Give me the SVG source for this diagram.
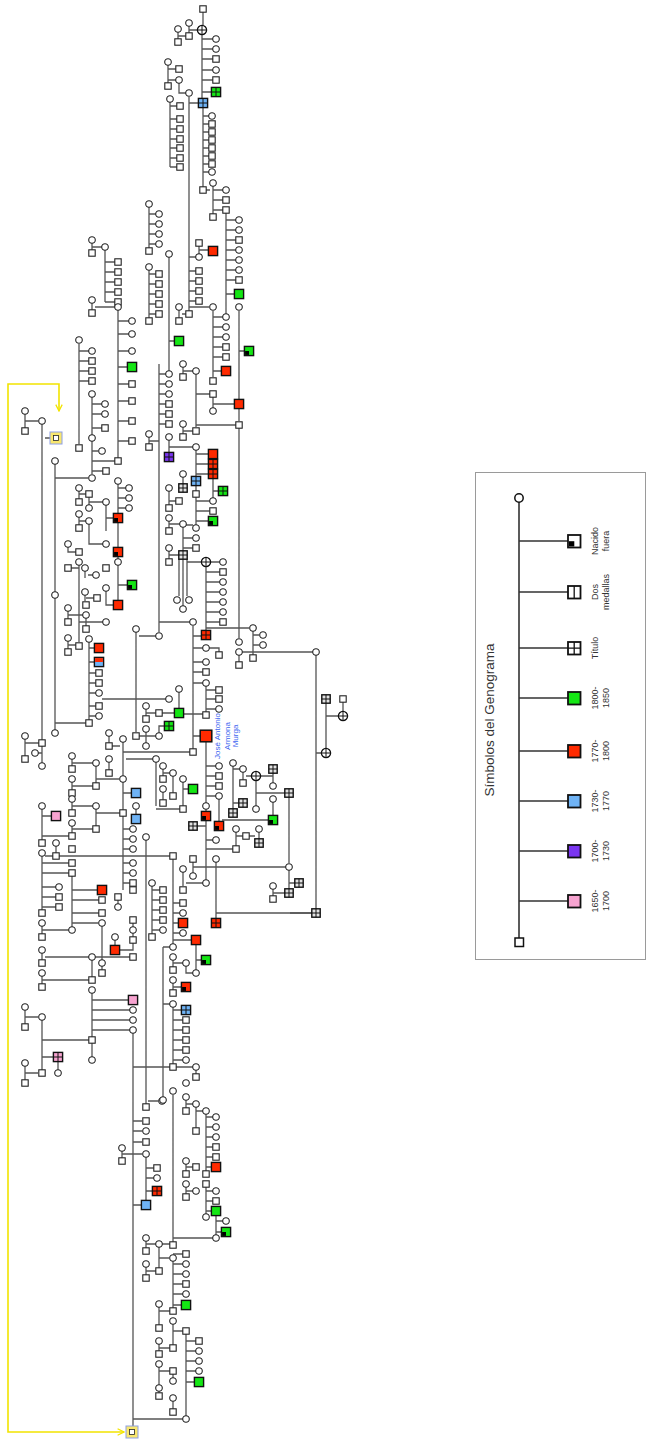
<svg xmlns="http://www.w3.org/2000/svg" xmlns:xlink="http://www.w3.org/1999/xlink" width="647" height="1439" viewBox="0 0 647 1439">
<style>
.w{fill:#fff;stroke:#222;stroke-width:1.1}
.o{stroke:#111;stroke-width:1.4}
.x{stroke:#111;stroke-width:1;fill:none}
.l{fill:none;stroke:#555;stroke-width:1.3}
.lg{fill:none;stroke:#333;stroke-width:1.6}
.t{font-family:"Liberation Sans",Arial,sans-serif;fill:#333}
</style>
<defs>
<circle id="c" r="3.3" class="w"/>
<rect id="s" x="-3.2" y="-3.2" width="6.4" height="6.4" class="w"/>
<rect id="g" x="-4.6" y="-4.6" width="9.2" height="9.2" fill="#14e614" class="o"/>
<rect id="r" x="-4.6" y="-4.6" width="9.2" height="9.2" fill="#ff2a00" class="o"/>
<rect id="b" x="-4.6" y="-4.6" width="9.2" height="9.2" fill="#6fb3f5" class="o"/>
<rect id="k" x="-4.6" y="-4.6" width="9.2" height="9.2" fill="#f7a3d0" class="o"/>
<rect id="p" x="-4.6" y="-4.6" width="9.2" height="9.2" fill="#7a35f0" class="o"/>
<path id="cr" d="M0,-4.6V4.6M-4.6,0H4.6" class="x"/>
<g id="gt"><use href="#g"/><use href="#cr"/></g>
<g id="rt"><use href="#r"/><use href="#cr"/></g>
<g id="bt"><use href="#b"/><use href="#cr"/></g>
<g id="pt"><use href="#p"/><use href="#cr"/></g>
<g id="kt"><use href="#k"/><use href="#cr"/></g>
<g id="xs"><rect x="-4.2" y="-4.2" width="8.4" height="8.4" fill="#e2e2e2" class="o"/><path d="M0,-4.2V4.2M-4.2,0H4.2" class="x"/></g>
<g id="xc"><circle r="4.6" fill="#fff" stroke="#111" stroke-width="1.3"/><path d="M0,-4.6V4.6M-4.6,0H4.6" class="x"/></g>
<g id="gn"><use href="#g"/><rect x="-3.9" y="0" width="3.9" height="3.9" fill="#000"/></g>
<g id="rn"><use href="#r"/><rect x="-3.9" y="0" width="3.9" height="3.9" fill="#000"/></g>
<g id="rb"><use href="#b"/><rect x="-3.9" y="-3.9" width="7.8" height="3.9" fill="#ff2a00"/></g>
<rect id="rl" x="-5.8" y="-5.8" width="11.6" height="11.6" fill="#ff2a00" stroke="#111" stroke-width="1.5"/>
<g id="y"><rect x="-6" y="-6" width="12" height="12" fill="#f9e76e" stroke="#8d9fe6" stroke-width="1"/><rect x="-2.5" y="-2.5" width="5" height="5" fill="#fff" stroke="#222" stroke-width="0.8"/></g>
<marker id="ya" viewBox="0 0 10 10" refX="9" refY="5" markerWidth="8" markerHeight="8" markerUnits="userSpaceOnUse" orient="auto-start-reverse"><path d="M1,1L9,5L1,9" fill="none" stroke="#f2e400" stroke-width="1.6"/></marker>
</defs>
<rect width="647" height="1439" fill="#fff"/>
<g id="connectors">
<path class="l" d="M203,12V25M189,26V33M189,30H197M178,32V39M178,36H186M202,35V98M202,39H213M202,49H213M202,59H213M202,70H213M202,80H213M202,92H212M168,65V83M168,69H176M168,80H176M179,83V93H186M189,97V311M189,103H198M170,102V167M170,106H177M170,119H177M170,129H177M170,139H177M170,148H177M170,158H177M170,167H177M203,108V187M203,116H209M203,124H209M203,132H209M203,140H209M203,148H209M203,156H209M203,164H209M203,172H209"/>
<path class="l" d="M206,190H210M213,186V214M213,190H223M213,200H223M213,210H223M226,213V314M226,220H236M226,230H236M226,240H236M226,250H236M226,260H236M226,270H236M226,280H236M226,294H235M239,311V421M239,351H245M199,246V254M199,250H208M189,257H196M189,271H196M189,281H196M189,291H196M189,301H196M189,307H209M213,311V377M213,317H223M213,327H223M213,337H223M213,347H223M213,357H223M213,371H221M179,310V318M182,314H186M183,367V374M183,371H193M196,374V427M196,394H210M213,397V408M213,404H235M196,425H236M183,427V434M183,431H193M169,440V453M169,447H193M196,450V491M196,454H209M196,464H209M196,474H209M213,478V498M213,491H218"/>
<path class="l" d="M149,207V248M149,214H156M149,224H156M149,234H156M149,244H156M149,270V318M149,274H156M149,284H156M149,294H156M149,304H156M149,314H156M169,257V371M169,341H175M159,364V632M159,374H166M159,384H166M159,394H166M159,404H166M159,414H166M159,424H166M149,437V444M149,441H159"/>
<path class="l" d="M92,243V250M92,247H102M105,250V302M105,262H115M105,272H115M105,282H115M105,292H115M105,302H115M92,303V310M95,307H115M118,310V458M118,321H129M118,334H129M118,351H129M118,367H128M118,384H129M118,401H129M118,421H129M118,441H129M79,344V444M79,351H89M79,361H89M79,371H89M79,381H89M92,397V474M92,404H102M92,414H102M92,428H102M92,451H98M92,471H103M92,461H115M42,424V740M25,414V428M25,421H38M45,438H50M55,464V730M55,478H88"/>
<path class="l" d="M79,491V499M79,494H86M89,497V505M89,502H103M106,505V531M106,518H113M118,484V514M118,488H126M118,498H126M118,508H126M79,517V525M79,521H86M89,524V544H103M118,523V547M118,556V559M118,565V601M118,585H128M68,547V552H76"/>
<path class="l" d="M79,565V642M71,568H79M85,571V578M88,575H93M85,595V601M86,598H94M106,591V605H113M68,611V619M68,615H83M86,618V626M79,622H103M68,641V649M68,645H76M89,642V720M89,648H94M89,662H94M89,673H96M89,683H96M89,693H96M89,706H96M89,716H96M55,723H86M102,699H166M136,632V732M139,636H156M159,622H190M193,626V749M193,636H201M193,648H203M193,662H203M193,672H203M193,683H203M219,652V648H209M206,686V712M206,690H216M206,699H216M206,709H216M179,692V708M184,714H203M146,709V716M146,713H156M162,713H175M159,733V726H164M146,732V743M136,736H156M193,736H200M123,752H190M123,742V890M109,736V743M109,762V770M109,746H120M126,759H153M156,762V806M156,809H180M163,769V776M163,773H170M173,776V793M163,792V800M183,782V806M183,789H188"/>
<path class="l" d="M72,759V766M72,763H93M96,766V783M72,782V790M72,786H93M96,779H119M123,793H131M136,809V814M72,802V810M72,806H93M96,809V826M96,813H120M72,826V833M72,829H93M123,829H130M123,839H130M123,849H130M123,863H130M123,873H130M123,883H130M42,809V840M42,816H51M42,836H69M56,846V853M45,856H170M42,856V910M42,863H69M42,873H69M72,876V927M72,890H97M72,900H99M72,913H99M72,923H98M42,887H56M42,897H56M42,907H56M118,900V904M42,926V934M42,930H69M115,940V945M102,926V960M102,966V970M120,950H133V923M45,957H89M95,957H130M42,953V960M92,960V977M42,976V984M42,980H89M92,993V1057M92,1000H128M92,1010H130M92,1020H130M92,1030H130M42,1040H89M25,1010V1024M25,1017H38M42,1020V1070M42,1057H54M58,1062V1070M25,1066V1080M25,1073H38M25,739V756M25,743H39M42,746V763M38,753H42"/>
<path class="l" d="M133,1033V1426M133,1067H170M146,840V1104M148,1101H158M152,886V934M152,890H160M152,900H160M152,910H160M152,920H160M152,930H160M173,859V944M173,903H180M173,913H180M173,923H178M173,933H180M163,947H170M163,947V1097M173,940H191M196,945V970M196,960H201M173,960V967M173,963H183M186,966V973H193M173,983V990M173,987H181M163,1004H170M173,1007V1064M173,1010H181M173,1020H183M173,1030H183M173,1040H183M173,1050H183M173,1060H183M176,1067H193M196,1070V1074M216,862V918M216,913H312M186,883H203"/>
<path class="l" d="M173,1095V1242M133,1121H142M133,1131H142M133,1142H142M122,1151V1158M122,1154H142M146,1157V1200M133,1205H141M146,1168H154M146,1178H154M146,1191H152M186,1100V1108M186,1104H193M196,1107V1128M196,1111H203M206,1114V1171M206,1117H213M206,1127H213M206,1137H213M206,1147H213M206,1157H213M206,1167H211M186,1164V1171M186,1167H193M186,1187V1194M186,1191H193M206,1187V1214M206,1191H213M206,1201H213M206,1211H211M216,1216V1235M216,1221H223M216,1232H221M173,1238H213M146,1241V1248M146,1244H156M162,1244H170M159,1247V1268M146,1267V1275M146,1271H156M159,1258H169M173,1261V1308M173,1254H183M173,1264H183M173,1274H183M173,1284H183M173,1294H183M173,1305H181M159,1307V1325M159,1311H170M173,1324V1345M173,1331H183M186,1334V1416M186,1341H196M186,1351H196M186,1361H196M186,1371H196M186,1382H195M159,1344V1351M159,1348H170M159,1367V1385M159,1371H170M173,1374V1378M173,1401V1409M159,1391V1393M133,1419H183"/>
<path class="l" d="M183,477V484M169,491V505M169,501H176M196,497V525M196,501H210M196,511H210M196,521H208M169,521V528M169,524H180M186,525H193M183,527V551M183,538H193M183,548H193M169,551V559M169,555H179M179,559V596M183,559V606M187,559V596M187,562H201M206,567V630M206,562H220M206,572H220M206,582H220M206,592H220M206,602H220M206,612H220M206,622H220M206,628H249M253,631V655M253,635H259M253,645H259M239,428V638M239,655V662M242,652H313"/>
<path class="l" d="M206,742V880M206,766H216M206,776H216M206,786H216M206,796H216M219,799V821M197,826H206M233,766V809M233,803H239M243,772V780M233,769H240M246,776H251M261,776H273M273,773V783M256,781V806M256,793H285M289,797V863M273,802V815M222,820H268M193,862V873M193,867H286M183,872V886M236,832V846M236,836H243M259,832V839M249,836H255M206,849H233M206,840H213M289,870V889M289,883H295M273,889V896M273,893H285M316,655V909M316,753H321M326,703V748M326,716H338M343,702V711M290,913H312"/>
<path d="M59,411V384H8V1432H124" fill="none" stroke="#f2e400" stroke-width="1.6" marker-start="url(#ya)" marker-end="url(#ya)"/>
</g>
<g id="nodes">
<g id="n1"><use href="#s" x="203" y="9"/></g><g id="n2"><use href="#xc" x="202" y="30"/></g><g id="n3"><use href="#c" x="189" y="23"/></g><g id="n4"><use href="#s" x="189" y="36"/></g><g id="n5"><use href="#c" x="178" y="29"/></g><g id="n6"><use href="#s" x="178" y="42"/></g>
<g id="n7"><use href="#c" x="216" y="39"/></g><g id="n8"><use href="#c" x="216" y="49"/></g><g id="n9"><use href="#s" x="216" y="59"/></g><g id="n10"><use href="#c" x="216" y="70"/></g><g id="n11"><use href="#s" x="216" y="80"/></g><g id="n12"><use href="#gt" x="216" y="92"/></g><g id="n13"><use href="#bt" x="203" y="103"/></g>
<g id="n14"><use href="#c" x="168" y="62"/></g><g id="n15"><use href="#s" x="179" y="69"/></g><g id="n16"><use href="#c" x="179" y="80"/></g><g id="n17"><use href="#s" x="168" y="86"/></g><g id="n18"><use href="#c" x="189" y="93"/></g>
<g id="n19"><use href="#c" x="170" y="99"/></g><g id="n20"><use href="#s" x="180" y="106"/></g><g id="n21"><use href="#s" x="180" y="119"/></g><g id="n22"><use href="#s" x="180" y="129"/></g><g id="n23"><use href="#s" x="180" y="139"/></g><g id="n24"><use href="#s" x="180" y="148"/></g><g id="n25"><use href="#s" x="180" y="158"/></g><g id="n26"><use href="#s" x="180" y="167"/></g>
<g id="n27"><use href="#c" x="212" y="116"/></g><g id="n28"><use href="#s" x="212" y="124"/></g><g id="n29"><use href="#s" x="212" y="132"/></g><g id="n30"><use href="#s" x="212" y="140"/></g><g id="n31"><use href="#s" x="212" y="148"/></g><g id="n32"><use href="#s" x="212" y="156"/></g><g id="n33"><use href="#s" x="212" y="164"/></g><g id="n34"><use href="#c" x="212" y="172"/></g><g id="n35"><use href="#s" x="203" y="190"/></g>
<g id="n36"><use href="#c" x="213" y="183"/></g><g id="n37"><use href="#c" x="226" y="190"/></g><g id="n38"><use href="#s" x="226" y="200"/></g><g id="n39"><use href="#s" x="226" y="210"/></g><g id="n40"><use href="#s" x="213" y="217"/></g>
<g id="n41"><use href="#c" x="239" y="220"/></g><g id="n42"><use href="#c" x="239" y="230"/></g><g id="n43"><use href="#s" x="239" y="240"/></g><g id="n44"><use href="#c" x="239" y="250"/></g><g id="n45"><use href="#c" x="239" y="260"/></g><g id="n46"><use href="#c" x="239" y="270"/></g><g id="n47"><use href="#s" x="239" y="280"/></g><g id="n48"><use href="#g" x="239" y="294"/></g>
<g id="n49"><use href="#c" x="239" y="307"/></g><g id="n50"><use href="#gn" x="249" y="351"/></g><g id="n51"><use href="#r" x="239" y="404"/></g><g id="n52"><use href="#s" x="239" y="425"/></g>
<g id="n53"><use href="#c" x="199" y="257"/></g><g id="n54"><use href="#s" x="199" y="243"/></g><g id="n55"><use href="#r" x="213" y="251"/></g>
<g id="n56"><use href="#s" x="199" y="271"/></g><g id="n57"><use href="#s" x="199" y="281"/></g><g id="n58"><use href="#s" x="199" y="291"/></g><g id="n59"><use href="#s" x="199" y="301"/></g>
<g id="n60"><use href="#c" x="213" y="307"/></g><g id="n61"><use href="#s" x="213" y="381"/></g><g id="n62"><use href="#c" x="226" y="317"/></g><g id="n63"><use href="#c" x="226" y="327"/></g><g id="n64"><use href="#c" x="226" y="337"/></g><g id="n65"><use href="#s" x="226" y="347"/></g><g id="n66"><use href="#s" x="226" y="357"/></g><g id="n67"><use href="#r" x="226" y="371"/></g>
<g id="n68"><use href="#c" x="179" y="307"/></g><g id="n69"><use href="#s" x="179" y="321"/></g><g id="n70"><use href="#s" x="189" y="314"/></g>
<g id="n71"><use href="#c" x="196" y="371"/></g><g id="n72"><use href="#c" x="183" y="364"/></g><g id="n73"><use href="#s" x="183" y="377"/></g><g id="n74"><use href="#s" x="196" y="431"/></g><g id="n75"><use href="#s" x="213" y="394"/></g><g id="n76"><use href="#c" x="213" y="411"/></g><g id="n77"><use href="#c" x="183" y="424"/></g><g id="n78"><use href="#s" x="183" y="437"/></g>
<g id="n79"><use href="#c" x="169" y="437"/></g><g id="n80"><use href="#pt" x="169" y="457"/></g><g id="n81"><use href="#c" x="196" y="447"/></g><g id="n82"><use href="#r" x="213" y="454"/></g><g id="n83"><use href="#rt" x="213" y="464"/></g><g id="n84"><use href="#rt" x="213" y="474"/></g><g id="n85"><use href="#bt" x="196" y="481"/></g><g id="n86"><use href="#c" x="213" y="501"/></g><g id="n87"><use href="#gt" x="223" y="491"/></g><g id="n88"><use href="#s" x="196" y="494"/></g>
<g id="n89"><use href="#c" x="149" y="204"/></g><g id="n90"><use href="#c" x="159" y="214"/></g><g id="n91"><use href="#c" x="159" y="224"/></g><g id="n92"><use href="#c" x="159" y="234"/></g><g id="n93"><use href="#c" x="159" y="244"/></g><g id="n94"><use href="#s" x="149" y="251"/></g>
<g id="n95"><use href="#c" x="149" y="267"/></g><g id="n96"><use href="#s" x="159" y="274"/></g><g id="n97"><use href="#s" x="159" y="284"/></g><g id="n98"><use href="#s" x="159" y="294"/></g><g id="n99"><use href="#s" x="159" y="304"/></g><g id="n100"><use href="#s" x="159" y="314"/></g><g id="n101"><use href="#s" x="149" y="321"/></g>
<g id="n102"><use href="#c" x="169" y="254"/></g><g id="n103"><use href="#g" x="179" y="341"/></g>
<g id="n104"><use href="#c" x="169" y="374"/></g><g id="n105"><use href="#c" x="169" y="384"/></g><g id="n106"><use href="#c" x="169" y="394"/></g><g id="n107"><use href="#s" x="169" y="404"/></g><g id="n108"><use href="#s" x="169" y="414"/></g><g id="n109"><use href="#s" x="169" y="424"/></g><g id="n110"><use href="#c" x="149" y="434"/></g><g id="n111"><use href="#s" x="149" y="447"/></g>
<g id="n112"><use href="#c" x="92" y="240"/></g><g id="n113"><use href="#s" x="92" y="253"/></g><g id="n114"><use href="#c" x="105" y="247"/></g><g id="n115"><use href="#s" x="118" y="262"/></g><g id="n116"><use href="#s" x="118" y="272"/></g><g id="n117"><use href="#s" x="118" y="282"/></g><g id="n118"><use href="#s" x="118" y="292"/></g><g id="n119"><use href="#s" x="118" y="302"/></g>
<g id="n120"><use href="#c" x="92" y="300"/></g><g id="n121"><use href="#s" x="92" y="313"/></g><g id="n122"><use href="#c" x="118" y="307"/></g>
<g id="n123"><use href="#c" x="132" y="321"/></g><g id="n124"><use href="#c" x="132" y="334"/></g><g id="n125"><use href="#c" x="132" y="351"/></g><g id="n126"><use href="#g" x="132" y="367"/></g><g id="n127"><use href="#s" x="132" y="384"/></g><g id="n128"><use href="#s" x="132" y="401"/></g><g id="n129"><use href="#s" x="132" y="421"/></g><g id="n130"><use href="#s" x="132" y="441"/></g>
<g id="n131"><use href="#c" x="79" y="340"/></g><g id="n132"><use href="#c" x="92" y="351"/></g><g id="n133"><use href="#s" x="92" y="361"/></g><g id="n134"><use href="#s" x="92" y="371"/></g><g id="n135"><use href="#s" x="92" y="381"/></g><g id="n136"><use href="#s" x="79" y="448"/></g>
<g id="n137"><use href="#c" x="92" y="394"/></g><g id="n138"><use href="#c" x="105" y="404"/></g><g id="n139"><use href="#c" x="105" y="414"/></g><g id="n140"><use href="#s" x="105" y="428"/></g><g id="n141"><use href="#c" x="92" y="438"/></g><g id="n142"><use href="#c" x="102" y="451"/></g><g id="n143"><use href="#s" x="106" y="471"/></g><g id="n144"><use href="#c" x="92" y="478"/></g><g id="n145"><use href="#s" x="118" y="461"/></g>
<g id="n146"><use href="#c" x="25" y="411"/></g><g id="n147"><use href="#s" x="25" y="431"/></g><g id="n148"><use href="#c" x="42" y="421"/></g><g id="n149"><use href="#y" x="56" y="438"/></g><g id="n150"><use href="#c" x="55" y="461"/></g>
<g id="n151"><use href="#c" x="79" y="488"/></g><g id="n152"><use href="#s" x="89" y="494"/></g><g id="n153"><use href="#s" x="79" y="502"/></g><g id="n154"><use href="#c" x="89" y="508"/></g><g id="n155"><use href="#c" x="106" y="502"/></g>
<g id="n156"><use href="#c" x="118" y="481"/></g><g id="n157"><use href="#c" x="129" y="488"/></g><g id="n158"><use href="#c" x="129" y="498"/></g><g id="n159"><use href="#c" x="129" y="508"/></g><g id="n160"><use href="#rn" x="118" y="518"/></g>
<g id="n161"><use href="#c" x="79" y="514"/></g><g id="n162"><use href="#s" x="79" y="528"/></g><g id="n163"><use href="#c" x="89" y="521"/></g><g id="n164"><use href="#c" x="106" y="544"/></g>
<g id="n165"><use href="#rn" x="118" y="552"/></g><g id="n166"><use href="#c" x="118" y="562"/></g><g id="n167"><use href="#gn" x="132" y="585"/></g><g id="n168"><use href="#r" x="118" y="605"/></g><g id="n169"><use href="#c" x="68" y="544"/></g><g id="n170"><use href="#s" x="79" y="552"/></g>
<g id="n171"><use href="#c" x="79" y="562"/></g><g id="n172"><use href="#s" x="68" y="568"/></g><g id="n173"><use href="#c" x="85" y="568"/></g><g id="n174"><use href="#c" x="96" y="575"/></g><g id="n175"><use href="#c" x="85" y="592"/></g><g id="n176"><use href="#s" x="97" y="598"/></g><g id="n177"><use href="#s" x="86" y="605"/></g><g id="n178"><use href="#c" x="106" y="588"/></g><g id="n179"><use href="#s" x="106" y="568"/></g>
<g id="n180"><use href="#c" x="68" y="608"/></g><g id="n181"><use href="#s" x="68" y="622"/></g><g id="n182"><use href="#c" x="86" y="615"/></g><g id="n183"><use href="#s" x="86" y="629"/></g><g id="n184"><use href="#c" x="106" y="622"/></g>
<g id="n185"><use href="#c" x="68" y="638"/></g><g id="n186"><use href="#s" x="68" y="652"/></g><g id="n187"><use href="#s" x="79" y="646"/></g><g id="n188"><use href="#c" x="89" y="639"/></g>
<g id="n189"><use href="#r" x="99" y="648"/></g><g id="n190"><use href="#rb" x="99" y="662"/></g><g id="n191"><use href="#s" x="99" y="673"/></g><g id="n192"><use href="#s" x="99" y="683"/></g><g id="n193"><use href="#c" x="99" y="693"/></g><g id="n194"><use href="#s" x="99" y="706"/></g><g id="n195"><use href="#c" x="99" y="716"/></g><g id="n196"><use href="#s" x="89" y="723"/></g>
<g id="n197"><use href="#c" x="136" y="629"/></g><g id="n198"><use href="#s" x="136" y="736"/></g><g id="n199"><use href="#c" x="159" y="636"/></g><g id="n200"><use href="#c" x="193" y="622"/></g><g id="n201"><use href="#rt" x="206" y="635"/></g>
<g id="n202"><use href="#c" x="206" y="648"/></g><g id="n203"><use href="#c" x="206" y="662"/></g><g id="n204"><use href="#s" x="206" y="672"/></g><g id="n205"><use href="#s" x="219" y="655"/></g><g id="n206"><use href="#c" x="206" y="683"/></g>
<g id="n207"><use href="#s" x="219" y="690"/></g><g id="n208"><use href="#s" x="219" y="699"/></g><g id="n209"><use href="#c" x="219" y="709"/></g><g id="n210"><use href="#s" x="206" y="715"/></g>
<g id="n211"><use href="#g" x="179" y="713"/></g><g id="n212"><use href="#c" x="179" y="689"/></g><g id="n213"><use href="#s" x="159" y="713"/></g><g id="n214"><use href="#c" x="146" y="706"/></g><g id="n215"><use href="#s" x="146" y="719"/></g>
<g id="n216"><use href="#gt" x="169" y="726"/></g><g id="n217"><use href="#c" x="146" y="729"/></g><g id="n218"><use href="#c" x="159" y="736"/></g><g id="n219"><use href="#c" x="146" y="746"/></g>
<g id="n220"><use href="#rl" x="206" y="736"/><text class="t" font-size="8" fill="#3c64f0" style="fill:#3c64f0" text-anchor="middle" transform="translate(220,736) rotate(-90)">José Antonio</text><text class="t" font-size="8" style="fill:#3c64f0" text-anchor="middle" transform="translate(229.5,736) rotate(-90)">Armona</text><text class="t" font-size="8" style="fill:#3c64f0" text-anchor="middle" transform="translate(238,736) rotate(-90)">Murga</text></g>
<g id="n221"><use href="#s" x="193" y="752"/></g><g id="n222"><use href="#c" x="55" y="595"/></g><g id="n223"><use href="#c" x="55" y="733"/></g><g id="n224"><use href="#c" x="169" y="699"/></g>
<g id="n225"><use href="#c" x="123" y="739"/></g><g id="n226"><use href="#c" x="109" y="733"/></g><g id="n227"><use href="#s" x="109" y="746"/></g><g id="n228"><use href="#c" x="109" y="759"/></g><g id="n229"><use href="#s" x="109" y="773"/></g>
<g id="n230"><use href="#c" x="156" y="759"/></g><g id="n231"><use href="#c" x="163" y="766"/></g><g id="n232"><use href="#c" x="173" y="773"/></g><g id="n233"><use href="#s" x="163" y="779"/></g><g id="n234"><use href="#c" x="163" y="789"/></g><g id="n235"><use href="#s" x="173" y="796"/></g><g id="n236"><use href="#c" x="183" y="779"/></g><g id="n237"><use href="#g" x="193" y="789"/></g><g id="n238"><use href="#s" x="183" y="809"/></g><g id="n239"><use href="#s" x="163" y="803"/></g>
<g id="n240"><use href="#c" x="206" y="806"/></g><g id="n241"><use href="#rn" x="206" y="816"/></g><g id="n242"><use href="#xs" x="193" y="826"/></g>
<g id="n243"><use href="#c" x="72" y="756"/></g><g id="n244"><use href="#s" x="72" y="769"/></g><g id="n245"><use href="#c" x="96" y="763"/></g><g id="n246"><use href="#c" x="72" y="779"/></g><g id="n247"><use href="#s" x="72" y="793"/></g><g id="n248"><use href="#s" x="96" y="786"/></g><g id="n249"><use href="#c" x="123" y="779"/></g>
<g id="n250"><use href="#b" x="136" y="793"/></g><g id="n251"><use href="#c" x="136" y="806"/></g><g id="n252"><use href="#b" x="136" y="819"/></g><g id="n253"><use href="#s" x="123" y="813"/></g>
<g id="n254"><use href="#c" x="72" y="799"/></g><g id="n255"><use href="#s" x="72" y="813"/></g><g id="n256"><use href="#c" x="96" y="806"/></g><g id="n257"><use href="#s" x="96" y="829"/></g><g id="n258"><use href="#c" x="72" y="823"/></g><g id="n259"><use href="#s" x="72" y="836"/></g>
<g id="n260"><use href="#c" x="133" y="829"/></g><g id="n261"><use href="#c" x="133" y="839"/></g><g id="n262"><use href="#c" x="133" y="849"/></g><g id="n263"><use href="#c" x="133" y="863"/></g><g id="n264"><use href="#c" x="133" y="873"/></g><g id="n265"><use href="#s" x="133" y="883"/></g>
<g id="n266"><use href="#k" x="56" y="816"/></g><g id="n267"><use href="#c" x="42" y="806"/></g><g id="n268"><use href="#s" x="42" y="843"/></g><g id="n269"><use href="#c" x="42" y="853"/></g><g id="n270"><use href="#c" x="56" y="843"/></g><g id="n271"><use href="#s" x="56" y="856"/></g><g id="n272"><use href="#s" x="72" y="849"/></g><g id="n273"><use href="#s" x="173" y="856"/></g>
<g id="n274"><use href="#c" x="25" y="736"/></g><g id="n275"><use href="#s" x="25" y="759"/></g><g id="n276"><use href="#c" x="35" y="753"/></g><g id="n277"><use href="#c" x="42" y="766"/></g><g id="n278"><use href="#s" x="42" y="743"/></g>
<g id="n279"><use href="#c" x="59" y="887"/></g><g id="n280"><use href="#s" x="59" y="897"/></g><g id="n281"><use href="#s" x="59" y="907"/></g><g id="n282"><use href="#s" x="42" y="913"/></g><g id="n283"><use href="#s" x="72" y="863"/></g><g id="n284"><use href="#s" x="72" y="873"/></g><g id="n285"><use href="#c" x="72" y="930"/></g>
<g id="n286"><use href="#r" x="102" y="890"/></g><g id="n287"><use href="#s" x="102" y="900"/></g><g id="n288"><use href="#s" x="102" y="913"/></g><g id="n289"><use href="#c" x="102" y="923"/></g><g id="n290"><use href="#c" x="42" y="923"/></g><g id="n291"><use href="#s" x="42" y="937"/></g><g id="n292"><use href="#s" x="118" y="897"/></g><g id="n293"><use href="#c" x="118" y="907"/></g><g id="n294"><use href="#s" x="133" y="890"/></g>
<g id="n295"><use href="#c" x="115" y="937"/></g><g id="n296"><use href="#r" x="115" y="950"/></g><g id="n297"><use href="#c" x="102" y="963"/></g><g id="n298"><use href="#s" x="102" y="973"/></g><g id="n299"><use href="#s" x="133" y="920"/></g><g id="n300"><use href="#c" x="133" y="930"/></g><g id="n301"><use href="#s" x="133" y="940"/></g><g id="n302"><use href="#s" x="133" y="957"/></g>
<g id="n303"><use href="#c" x="42" y="950"/></g><g id="n304"><use href="#s" x="42" y="963"/></g><g id="n305"><use href="#c" x="92" y="957"/></g><g id="n306"><use href="#s" x="92" y="980"/></g><g id="n307"><use href="#c" x="42" y="973"/></g><g id="n308"><use href="#s" x="42" y="987"/></g>
<g id="n309"><use href="#c" x="92" y="990"/></g><g id="n310"><use href="#k" x="133" y="1000"/></g><g id="n311"><use href="#c" x="133" y="1010"/></g><g id="n312"><use href="#c" x="133" y="1020"/></g><g id="n313"><use href="#c" x="133" y="1030"/></g><g id="n314"><use href="#s" x="92" y="1040"/></g><g id="n315"><use href="#c" x="92" y="1060"/></g>
<g id="n316"><use href="#c" x="25" y="1007"/></g><g id="n317"><use href="#s" x="25" y="1027"/></g><g id="n318"><use href="#c" x="42" y="1017"/></g><g id="n319"><use href="#s" x="42" y="1073"/></g><g id="n320"><use href="#kt" x="58" y="1057"/></g><g id="n321"><use href="#c" x="58" y="1073"/></g><g id="n322"><use href="#c" x="25" y="1063"/></g><g id="n323"><use href="#s" x="25" y="1083"/></g>
<g id="n324"><use href="#s" x="173" y="1067"/></g><g id="n325"><use href="#c" x="146" y="837"/></g><g id="n326"><use href="#s" x="146" y="1107"/></g><g id="n327"><use href="#c" x="162" y="1101"/></g>
<g id="n328"><use href="#c" x="152" y="883"/></g><g id="n329"><use href="#s" x="163" y="890"/></g><g id="n330"><use href="#s" x="163" y="900"/></g><g id="n331"><use href="#s" x="163" y="910"/></g><g id="n332"><use href="#s" x="163" y="920"/></g><g id="n333"><use href="#c" x="163" y="930"/></g><g id="n334"><use href="#s" x="152" y="937"/></g>
<g id="n335"><use href="#s" x="183" y="903"/></g><g id="n336"><use href="#c" x="183" y="913"/></g><g id="n337"><use href="#r" x="183" y="923"/></g><g id="n338"><use href="#c" x="183" y="933"/></g><g id="n339"><use href="#c" x="173" y="947"/></g><g id="n340"><use href="#c" x="163" y="1100"/></g>
<g id="n341"><use href="#r" x="196" y="940"/></g><g id="n342"><use href="#gn" x="206" y="960"/></g><g id="n343"><use href="#c" x="196" y="973"/></g><g id="n344"><use href="#c" x="173" y="957"/></g><g id="n345"><use href="#s" x="173" y="970"/></g><g id="n346"><use href="#c" x="186" y="963"/></g>
<g id="n347"><use href="#c" x="173" y="980"/></g><g id="n348"><use href="#s" x="173" y="993"/></g><g id="n349"><use href="#rn" x="186" y="987"/></g>
<g id="n350"><use href="#c" x="173" y="1004"/></g><g id="n351"><use href="#bt" x="186" y="1010"/></g><g id="n352"><use href="#s" x="186" y="1020"/></g><g id="n353"><use href="#s" x="186" y="1030"/></g><g id="n354"><use href="#s" x="186" y="1040"/></g><g id="n355"><use href="#s" x="186" y="1050"/></g><g id="n356"><use href="#c" x="186" y="1060"/></g>
<g id="n357"><use href="#c" x="196" y="1067"/></g><g id="n358"><use href="#s" x="196" y="1077"/></g><g id="n359"><use href="#c" x="186" y="1083"/></g>
<g id="n360"><use href="#rt" x="216" y="923"/></g><g id="n361"><use href="#s" x="183" y="890"/></g><g id="n362"><use href="#c" x="206" y="883"/></g><g id="n363"><use href="#c" x="183" y="869"/></g><g id="n364"><use href="#s" x="193" y="859"/></g><g id="n365"><use href="#c" x="193" y="876"/></g><g id="n366"><use href="#c" x="216" y="859"/></g>
<g id="n367"><use href="#c" x="173" y="1091"/></g><g id="n368"><use href="#s" x="173" y="1245"/></g><g id="n369"><use href="#s" x="146" y="1121"/></g><g id="n370"><use href="#c" x="146" y="1131"/></g><g id="n371"><use href="#s" x="146" y="1142"/></g>
<g id="n372"><use href="#c" x="122" y="1148"/></g><g id="n373"><use href="#s" x="122" y="1161"/></g><g id="n374"><use href="#c" x="146" y="1154"/></g><g id="n375"><use href="#b" x="146" y="1205"/></g><g id="n376"><use href="#s" x="157" y="1168"/></g><g id="n377"><use href="#c" x="157" y="1178"/></g><g id="n378"><use href="#rt" x="157" y="1191"/></g>
<g id="n379"><use href="#c" x="186" y="1097"/></g><g id="n380"><use href="#s" x="186" y="1111"/></g><g id="n381"><use href="#c" x="196" y="1104"/></g><g id="n382"><use href="#s" x="196" y="1131"/></g><g id="n383"><use href="#c" x="206" y="1111"/></g><g id="n384"><use href="#s" x="206" y="1174"/></g>
<g id="n385"><use href="#c" x="216" y="1117"/></g><g id="n386"><use href="#c" x="216" y="1127"/></g><g id="n387"><use href="#c" x="216" y="1137"/></g><g id="n388"><use href="#s" x="216" y="1147"/></g><g id="n389"><use href="#s" x="216" y="1157"/></g><g id="n390"><use href="#r" x="216" y="1167"/></g>
<g id="n391"><use href="#c" x="186" y="1161"/></g><g id="n392"><use href="#s" x="186" y="1174"/></g><g id="n393"><use href="#s" x="196" y="1167"/></g><g id="n394"><use href="#c" x="186" y="1184"/></g><g id="n395"><use href="#s" x="186" y="1197"/></g><g id="n396"><use href="#c" x="196" y="1191"/></g><g id="n397"><use href="#s" x="206" y="1184"/></g><g id="n398"><use href="#c" x="206" y="1217"/></g>
<g id="n399"><use href="#c" x="216" y="1191"/></g><g id="n400"><use href="#s" x="216" y="1201"/></g><g id="n401"><use href="#g" x="216" y="1211"/></g><g id="n402"><use href="#c" x="216" y="1238"/></g><g id="n403"><use href="#c" x="226" y="1221"/></g><g id="n404"><use href="#gn" x="226" y="1232"/></g>
<g id="n405"><use href="#c" x="146" y="1238"/></g><g id="n406"><use href="#s" x="146" y="1251"/></g><g id="n407"><use href="#c" x="159" y="1244"/></g><g id="n408"><use href="#s" x="159" y="1271"/></g><g id="n409"><use href="#c" x="146" y="1264"/></g><g id="n410"><use href="#s" x="146" y="1278"/></g><g id="n411"><use href="#c" x="173" y="1258"/></g><g id="n412"><use href="#s" x="173" y="1311"/></g>
<g id="n413"><use href="#s" x="186" y="1254"/></g><g id="n414"><use href="#c" x="186" y="1264"/></g><g id="n415"><use href="#c" x="186" y="1274"/></g><g id="n416"><use href="#s" x="186" y="1284"/></g><g id="n417"><use href="#c" x="186" y="1294"/></g><g id="n418"><use href="#g" x="186" y="1305"/></g>
<g id="n419"><use href="#c" x="159" y="1304"/></g><g id="n420"><use href="#s" x="159" y="1328"/></g><g id="n421"><use href="#c" x="173" y="1321"/></g><g id="n422"><use href="#s" x="173" y="1348"/></g><g id="n423"><use href="#s" x="186" y="1331"/></g>
<g id="n424"><use href="#s" x="199" y="1341"/></g><g id="n425"><use href="#c" x="199" y="1351"/></g><g id="n426"><use href="#c" x="199" y="1361"/></g><g id="n427"><use href="#c" x="199" y="1371"/></g><g id="n428"><use href="#g" x="199" y="1382"/></g>
<g id="n429"><use href="#c" x="159" y="1341"/></g><g id="n430"><use href="#s" x="159" y="1354"/></g><g id="n431"><use href="#c" x="159" y="1364"/></g><g id="n432"><use href="#s" x="173" y="1371"/></g><g id="n433"><use href="#c" x="173" y="1381"/></g><g id="n434"><use href="#c" x="159" y="1388"/></g><g id="n435"><use href="#s" x="159" y="1396"/></g><g id="n436"><use href="#c" x="173" y="1398"/></g><g id="n437"><use href="#s" x="173" y="1412"/></g><g id="n438"><use href="#c" x="186" y="1419"/></g><g id="n439"><use href="#y" x="132" y="1432"/></g>
<g id="n440"><use href="#c" x="183" y="474"/></g><g id="n441"><use href="#xs" x="183" y="488"/></g><g id="n442"><use href="#c" x="169" y="488"/></g><g id="n443"><use href="#s" x="179" y="501"/></g><g id="n444"><use href="#s" x="169" y="508"/></g>
<g id="n445"><use href="#s" x="213" y="511"/></g><g id="n446"><use href="#gn" x="213" y="521"/></g><g id="n447"><use href="#c" x="196" y="528"/></g><g id="n448"><use href="#c" x="169" y="518"/></g><g id="n449"><use href="#s" x="169" y="531"/></g><g id="n450"><use href="#c" x="183" y="524"/></g>
<g id="n451"><use href="#c" x="196" y="538"/></g><g id="n452"><use href="#s" x="196" y="548"/></g><g id="n453"><use href="#xs" x="183" y="555"/></g><g id="n454"><use href="#c" x="169" y="548"/></g><g id="n455"><use href="#s" x="169" y="562"/></g>
<g id="n456"><use href="#c" x="177" y="600"/></g><g id="n457"><use href="#c" x="189" y="600"/></g><g id="n458"><use href="#c" x="183" y="609"/></g><g id="n459"><use href="#xc" x="206" y="562"/></g>
<g id="n460"><use href="#c" x="223" y="562"/></g><g id="n461"><use href="#s" x="223" y="572"/></g><g id="n462"><use href="#c" x="223" y="582"/></g><g id="n463"><use href="#c" x="223" y="592"/></g><g id="n464"><use href="#c" x="223" y="602"/></g><g id="n465"><use href="#c" x="223" y="612"/></g><g id="n466"><use href="#s" x="223" y="622"/></g>
<g id="n467"><use href="#c" x="253" y="628"/></g><g id="n468"><use href="#c" x="263" y="635"/></g><g id="n469"><use href="#c" x="263" y="645"/></g><g id="n470"><use href="#s" x="253" y="658"/></g><g id="n471"><use href="#c" x="239" y="642"/></g><g id="n472"><use href="#c" x="239" y="652"/></g><g id="n473"><use href="#s" x="239" y="665"/></g>
<g id="n474"><use href="#c" x="219" y="766"/></g><g id="n475"><use href="#s" x="219" y="776"/></g><g id="n476"><use href="#s" x="219" y="786"/></g><g id="n477"><use href="#c" x="219" y="796"/></g><g id="n478"><use href="#rn" x="219" y="826"/></g>
<g id="n479"><use href="#c" x="233" y="763"/></g><g id="n480"><use href="#xs" x="233" y="813"/></g><g id="n481"><use href="#xs" x="243" y="803"/></g><g id="n482"><use href="#c" x="243" y="769"/></g><g id="n483"><use href="#s" x="243" y="783"/></g><g id="n484"><use href="#xc" x="256" y="776"/></g><g id="n485"><use href="#xs" x="273" y="769"/></g><g id="n486"><use href="#c" x="273" y="786"/></g>
<g id="n487"><use href="#c" x="256" y="809"/></g><g id="n488"><use href="#xs" x="289" y="793"/></g><g id="n489"><use href="#c" x="289" y="867"/></g><g id="n490"><use href="#c" x="273" y="799"/></g><g id="n491"><use href="#gn" x="273" y="820"/></g>
<g id="n492"><use href="#c" x="236" y="829"/></g><g id="n493"><use href="#s" x="246" y="836"/></g><g id="n494"><use href="#xs" x="259" y="843"/></g><g id="n495"><use href="#c" x="259" y="829"/></g><g id="n496"><use href="#s" x="236" y="849"/></g><g id="n497"><use href="#c" x="216" y="840"/></g>
<g id="n498"><use href="#xs" x="299" y="883"/></g><g id="n499"><use href="#xs" x="289" y="893"/></g><g id="n500"><use href="#c" x="273" y="886"/></g><g id="n501"><use href="#s" x="273" y="899"/></g>
<g id="n502"><use href="#c" x="316" y="652"/></g><g id="n503"><use href="#xs" x="316" y="913"/></g><g id="n504"><use href="#xs" x="326" y="699"/></g><g id="n505"><use href="#s" x="343" y="699"/></g><g id="n506"><use href="#xc" x="343" y="716"/></g><g id="n507"><use href="#xc" x="326" y="753"/></g>
</g>
<g id="legend">
<rect x="475.5" y="472.5" width="170" height="487" fill="#fff" stroke="#9a9a9a" stroke-width="1"/>
<text class="t" font-size="13.5" text-anchor="middle" transform="translate(494,720) rotate(-90)">Símbolos del Genograma</text>
<path class="lg" d="M519,502V938M519,541H568M519,592H568M519,648H568M519,698H568M519,751H568M519,801H568M519,851H568M519,901H568"/>
<g id="lg-top"><circle cx="519" cy="498" r="4.2" fill="#fff" stroke="#111" stroke-width="1.5"/></g>
<g id="lg-bottom"><rect x="515" y="938" width="8.5" height="8.5" fill="#fff" stroke="#111" stroke-width="1.5"/></g>
<g id="lg-nacido"><rect x="568" y="535" width="12.5" height="12.5" fill="#fff" stroke="#111" stroke-width="1.8"/><rect x="569" y="541.2" width="5.3" height="5.3" fill="#000"/><text class="t" font-size="9" text-anchor="middle" transform="translate(598,541) rotate(-90)">Nacido</text><text class="t" font-size="9" text-anchor="middle" transform="translate(609,541) rotate(-90)">fuera</text></g>
<g id="lg-medallas"><rect x="568" y="586" width="12.5" height="12.5" fill="#fff" stroke="#111" stroke-width="1.8"/><path d="M574.2,586V598.5" stroke="#111" stroke-width="1.3"/><text class="t" font-size="9" text-anchor="middle" transform="translate(598,592) rotate(-90)">Dos</text><text class="t" font-size="9" text-anchor="middle" transform="translate(609,592) rotate(-90)">medallas</text></g>
<g id="lg-titulo"><rect x="568" y="642" width="12.5" height="12.5" fill="#fff" stroke="#111" stroke-width="1.8"/><path d="M574.2,642V654.5M568,648.2H580.5" stroke="#111" stroke-width="1.3"/><text class="t" font-size="9" text-anchor="middle" transform="translate(598,648) rotate(-90)">Título</text></g>
<g id="lg-1800"><rect x="568" y="692" width="12.5" height="12.5" fill="#14e614" stroke="#111" stroke-width="1.8"/><text class="t" font-size="9" text-anchor="middle" transform="translate(598,698) rotate(-90)">1800-</text><text class="t" font-size="9" text-anchor="middle" transform="translate(609,698) rotate(-90)">1850</text></g>
<g id="lg-1770"><rect x="568" y="745" width="12.5" height="12.5" fill="#ff2a00" stroke="#111" stroke-width="1.8"/><text class="t" font-size="9" text-anchor="middle" transform="translate(598,751) rotate(-90)">1770-</text><text class="t" font-size="9" text-anchor="middle" transform="translate(609,751) rotate(-90)">1800</text></g>
<g id="lg-1730"><rect x="568" y="795" width="12.5" height="12.5" fill="#6fb3f5" stroke="#111" stroke-width="1.8"/><text class="t" font-size="9" text-anchor="middle" transform="translate(598,801) rotate(-90)">1730-</text><text class="t" font-size="9" text-anchor="middle" transform="translate(609,801) rotate(-90)">1770</text></g>
<g id="lg-1700"><rect x="568" y="845" width="12.5" height="12.5" fill="#7a35f0" stroke="#111" stroke-width="1.8"/><text class="t" font-size="9" text-anchor="middle" transform="translate(598,851) rotate(-90)">1700-</text><text class="t" font-size="9" text-anchor="middle" transform="translate(609,851) rotate(-90)">1730</text></g>
<g id="lg-1650"><rect x="568" y="895" width="12.5" height="12.5" fill="#f7a3d0" stroke="#111" stroke-width="1.8"/><text class="t" font-size="9" text-anchor="middle" transform="translate(598,901) rotate(-90)">1650-</text><text class="t" font-size="9" text-anchor="middle" transform="translate(609,901) rotate(-90)">1700</text></g>
</g>
</svg>
